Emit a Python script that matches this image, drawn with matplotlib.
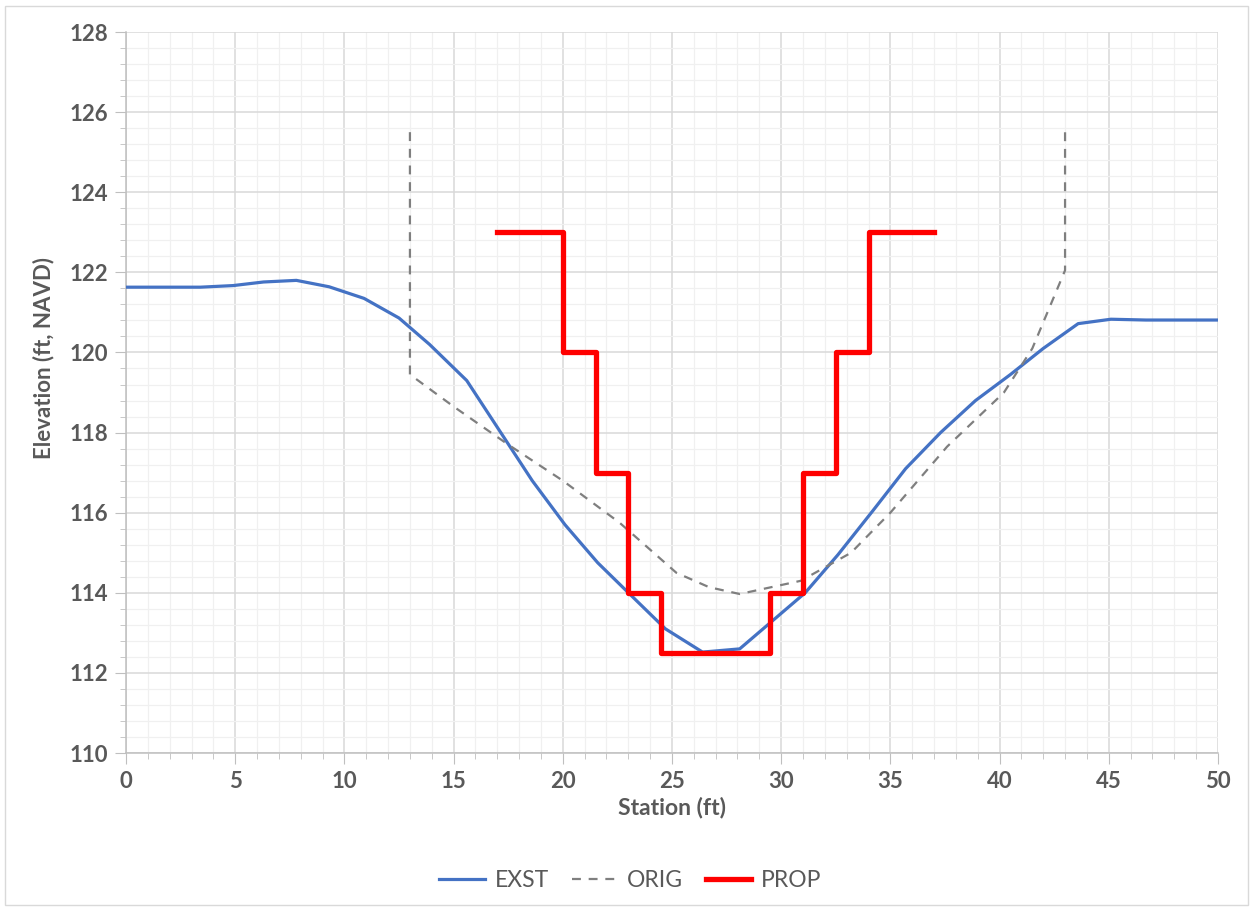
import numpy as np
import matplotlib.pyplot as plt
from matplotlib.patches import Rectangle
from matplotlib.ticker import MultipleLocator

plt.rcParams['font.family'] = ['Lato', 'DejaVu Sans']

# existing ground
exst_x = [0, 3.4, 4.9, 6.3, 7.8, 9.3, 10.9, 12.5, 13.9, 15.6, 17.1, 18.6, 20.1, 21.6,
          23.1, 24.7, 26.4, 28.1, 29.6, 31.1, 32.6, 34.2, 35.7, 37.3, 38.9, 40.5,
          42.0, 43.6, 45.1, 46.7, 50]
exst_y = [121.63, 121.63, 121.67, 121.76, 121.80, 121.64, 121.35, 120.86, 120.2, 119.3,
          118.05, 116.8, 115.7, 114.75, 113.95, 113.1, 112.52, 112.6, 113.3, 114.0,
          114.95, 116.05, 117.1, 118.0, 118.8, 119.45, 120.1, 120.72, 120.83, 120.81, 120.81]

# original design
orig_x = [13, 13, 15, 17.5, 20, 22.6, 25.2, 26.7, 28.1, 30.9, 33.2, 35, 37.6, 40.2, 41.5, 43, 43]
orig_y = [125.5, 119.45, 118.65, 117.7, 116.8, 115.75, 114.5, 114.14, 113.97, 114.3, 115.0,
          116.0, 117.65, 119.0, 120.1, 122.05, 125.5]

# proposed section
prop_x = [17, 20, 20, 21.5, 21.5, 23, 23, 24.5, 24.5, 29.5, 29.5, 31, 31, 32.5, 32.5, 34, 34, 37]
prop_y = [123, 123, 120, 120, 117, 117, 114, 114, 112.5, 112.5, 114, 114, 117, 117, 120, 120, 123, 123]

fig = plt.figure(figsize=(12.53, 9.10), dpi=100)
ax = fig.add_axes([0.1006, 0.1725, 0.8714, 0.7923])

ax.plot(exst_x, exst_y, color='#4472C4', lw=2.3, label='EXST', zorder=3)
ax.plot(orig_x, orig_y, color='#7F7F7F', lw=1.6, ls=(0, (4, 3.5)), label='ORIG', zorder=3)
ax.plot(prop_x, prop_y, color='#FF0000', lw=3.8, label='PROP', zorder=4)

ax.set_xlim(0, 50)
ax.set_ylim(110, 128)
ax.xaxis.set_major_locator(MultipleLocator(5))
ax.xaxis.set_minor_locator(MultipleLocator(1))
ax.yaxis.set_major_locator(MultipleLocator(2))
ax.yaxis.set_minor_locator(MultipleLocator(0.4))

ax.grid(which='major', color='#D9D9D9', lw=1.1)
ax.grid(which='minor', color='#F0F0F0', lw=0.9)
ax.set_axisbelow(True)

for s in ['top', 'right']:
    ax.spines[s].set_visible(False)
for s in ['left', 'bottom']:
    ax.spines[s].set_color('#BFBFBF')
    ax.spines[s].set_linewidth(1.1)

ax.tick_params(which='major', length=8, color='#BFBFBF', labelsize=16,
               labelcolor='#595959', pad=5)
ax.tick_params(which='minor', length=4, color='#BFBFBF')
for lab in ax.get_xticklabels() + ax.get_yticklabels():
    lab.set_fontweight('bold')

ax.set_xlabel('Station (ft)', fontsize=16.5, fontweight='bold', color='#595959')
ax.set_ylabel('Elevation (ft, NAVD)', fontsize=16, fontweight='bold', color='#595959')
ax.xaxis.set_label_coords(0.5, -0.06)
ax.yaxis.set_label_coords(-0.066, 0.548)

fig.legend(loc='center', bbox_to_anchor=(0.503, 0.032), ncol=3, frameon=False,
           fontsize=16.5, labelcolor='#595959', handlelength=2.0, columnspacing=1.0,
           handletextpad=0.4)

fig.patches.append(Rectangle((5 / 1253, 5 / 910), 1243 / 1253, 899 / 910,
                             transform=fig.transFigure, fill=False,
                             edgecolor='#D9D9D9', lw=1))

fig.savefig('out.png', dpi=100)
